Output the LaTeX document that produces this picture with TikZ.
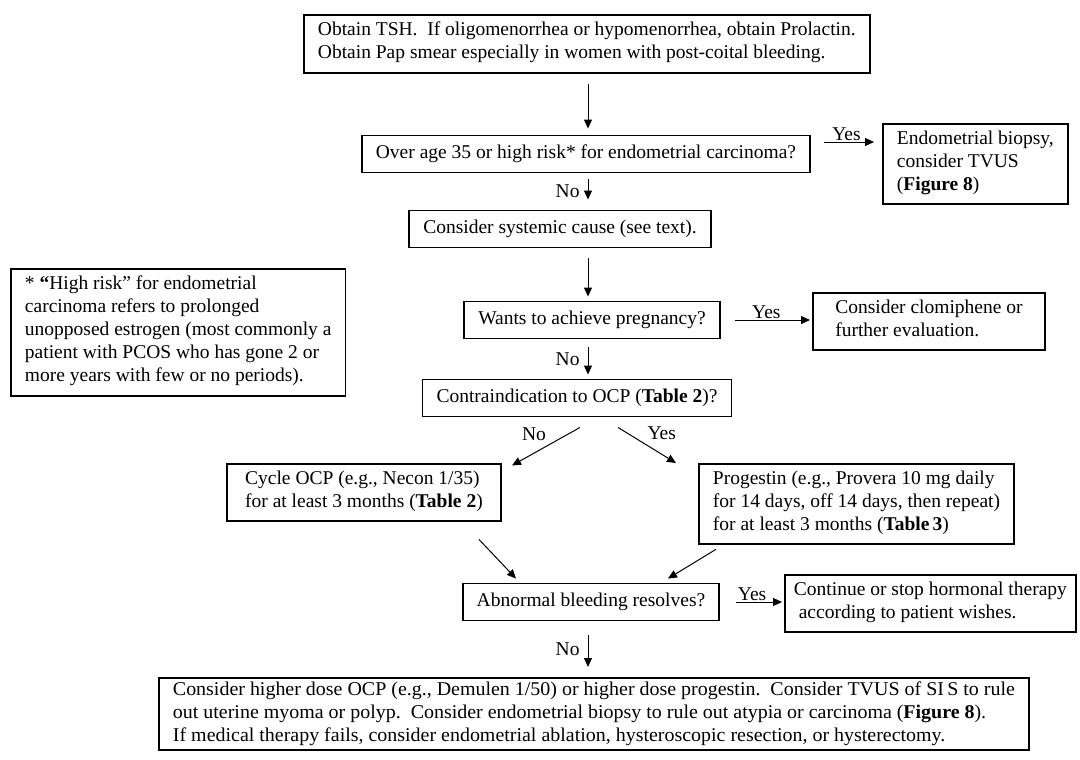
\documentclass[tikz,border=0pt]{standalone}
\usepackage{fontspec}
\setmainfont{Liberation Serif}
\usetikzlibrary{arrows.meta}
\begin{document}
\begin{tikzpicture}[x=1pt,y=-1pt,
  box/.style={draw,line width=1.9pt,inner xsep=14pt,inner ysep=7pt,font=\fontsize{19.5}{23}\selectfont,align=left,
    execute at begin node={\strut},execute at end node={\strut}},
  arr/.style={line width=1pt,-{Triangle[length=9pt,width=8pt]}},
  lbl/.style={font=\fontsize{19.5}{23}\selectfont,inner sep=1pt}]
\useasboundingbox (0,0) rectangle (1080,760);
\coordinate (spine) at (588,0);
\node[box,anchor=north west] (tsh) at (303,14) {Obtain TSH.\ \ If oligomenorrhea or hypomenorrhea, obtain Prolactin.\\Obtain Pap smear especially in women with post-coital bleeding.};
\node[box] (age) at (586,154) {Over age 35 or high risk* for endometrial carcinoma?};
\node[box,anchor=north west] (bx) at (882,123) {Endometrial biopsy,\\consider TVUS\\(\textbf{Figure 8})};
\node[box] (sys) at (560,229) {Consider systemic cause (see text).};
\node[box,anchor=north west] (note) at (10,268) {* \textbf{“}High risk” for endometrial\\carcinoma refers to prolonged\\unopposed estrogen (most commonly a\\patient with PCOS who has gone 2 or\\more years with few or no periods).};
\node[box] (preg) at (592,320) {Wants to achieve pregnancy?};
\node[box,anchor=north west,minimum width=232pt] (clom) at (812,292) {Consider clomiphene or\\further evaluation.};
\node[box] (contra) at (577,398) {Contraindication to OCP (\textbf{Table 2})?};
\node[box,anchor=north west,minimum width=274pt] (ocp) at (226,463) {Cycle OCP (e.g., Necon 1/35)\\for at least 3 months (\textbf{Table 2})};
\node[box,anchor=north west] (prog) at (698,463) {Progestin (e.g., Provera 10 mg daily\\for 14 days, off 14 days, then repeat)\\for at least 3 months (\textbf{Table\,3})};
\node[box] (abn) at (591,602) {Abnormal bleeding resolves?};
\node[box,anchor=north west,inner xsep=9pt] (cont) at (784,574) {Continue or stop hormonal therapy\\\ according to patient wishes.};
\node[box,anchor=north west,inner ysep=1.5pt] (final) at (158,677) {\resizebox{842pt}{\height}{\begin{tabular}{@{}l@{}}Consider higher dose OCP (e.g., Demulen 1/50) or higher dose progestin.\ \ Consider TVUS of SI\,S to rule\\out uterine myoma or polyp.\ \ Consider endometrial biopsy to rule out atypia or carcinoma (\textbf{Figure 8}).\\If medical therapy fails, consider endometrial ablation, hysteroscopic resection, or hysterectomy.\end{tabular}}};
% connectors
\draw[arr,shorten <=10pt,shorten >=6pt] (tsh.south -| spine) -- (age.north -| spine);
\draw[arr,shorten <=13pt,shorten >=8pt] ([yshift=12pt]age.east) -- ([yshift=12pt]age.east -| bx.west) node[lbl,midway,above]{Yes};
\draw[arr,shorten <=6pt,shorten >=10pt] (age.south -| spine) -- (sys.north -| spine) node[lbl,midway,left=7pt]{No};
\draw[arr,shorten <=10pt,shorten >=4pt] (sys.south -| spine) -- (preg.north -| spine);
\draw[arr,shorten <=14pt,shorten >=2pt] (preg.east) -- (preg.east -| clom.west) node[lbl,midway,above]{Yes};
\draw[arr,shorten <=8pt,shorten >=4pt] (preg.south -| spine) -- (contra.north -| spine) node[lbl,midway,left=7pt]{No};
\draw[arr] ([xshift=3pt,yshift=-10pt]contra.south) -- ([xshift=-65pt,yshift=-48pt]contra.south) node[lbl,pos=0.45,above left=2pt]{No};
\draw[arr] ([xshift=41pt,yshift=-10pt]contra.south) -- ([xshift=-22pt]prog.north west) node[lbl,pos=0.45,above right=2pt]{Yes};
\draw[arr] ([xshift=-23pt,yshift=-17pt]ocp.south east) -- ([xshift=-75pt,yshift=4pt]abn.north);
\draw[arr] ([xshift=18pt,yshift=-4pt]prog.south west) -- ([xshift=77pt,yshift=4pt]abn.north);
\draw[arr,shorten <=16pt,shorten >=2pt] (abn.east) -- (abn.east -| cont.west) node[lbl,midway,above]{Yes};
\draw[arr,shorten <=14pt,shorten >=10pt] (abn.south -| spine) -- (final.north -| spine) node[lbl,midway,left=7pt]{No};
\end{tikzpicture}
\end{document}
